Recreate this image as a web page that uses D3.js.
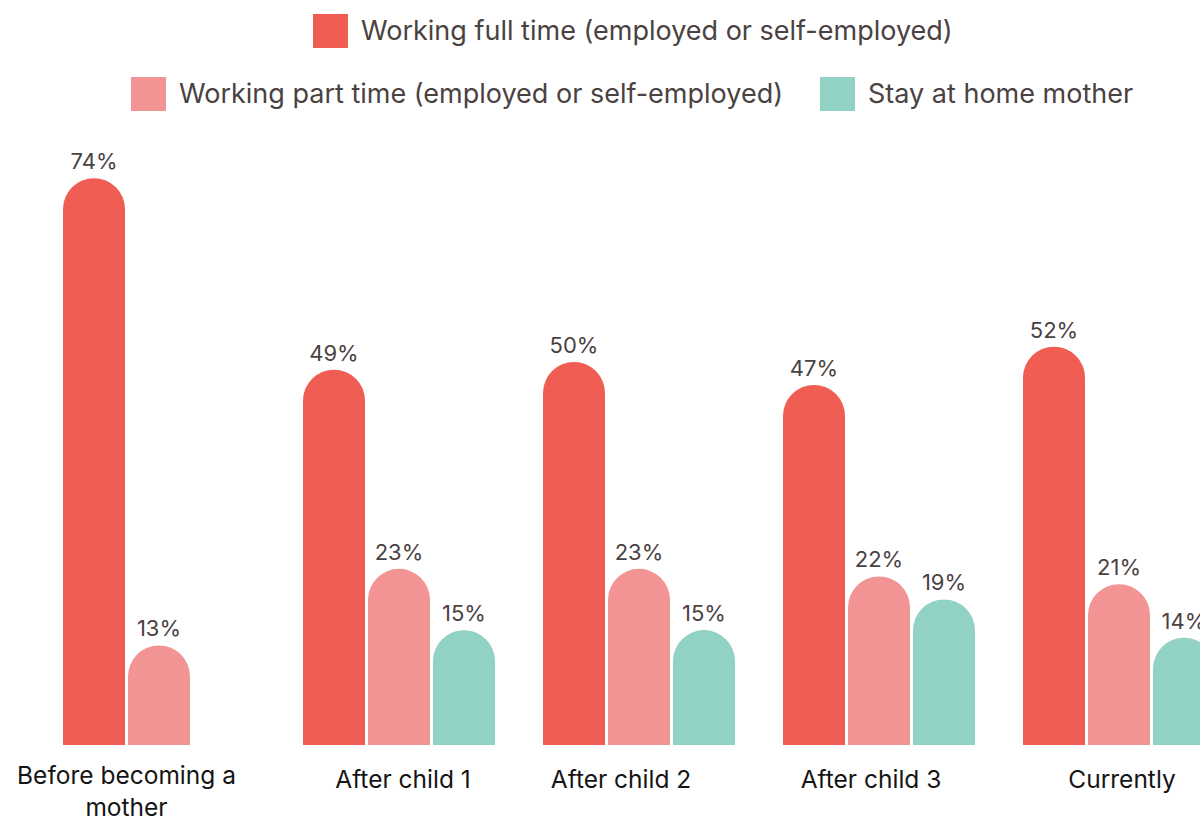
<!DOCTYPE html>
<html>
<head>
<meta charset="utf-8">
<script src="https://cdn.jsdelivr.net/npm/d3@7"></script>
<style>
  body { margin: 0; background: #fff; }
  svg { display: block; font-family: Inter, "Noto Sans", sans-serif; }
</style>
</head>
<body>
<svg id="chart" width="1200" height="821"></svg>
<script>
// data
var categories = ["Before becoming a mother", "After child 1", "After child 2", "After child 3", "Currently"];
var seriesNames = ["Working full time (employed or self-employed)", "Working part time (employed or self-employed)", "Stay at home mother"];
var fullTime = [74, 49, 50, 47, 52];
var partTime = [13, 23, 23, 22, 21];
var stayHome = [null, 15, 15, 19, 14];
var colors = ["#f05d52", "#f39494", "#92d2c5"];

var values = [fullTime, partTime, stayHome];

// small nudges for category labels (they are not quite centred in the original)
var labelNudge = [0, 4, -18, -8, 3];

var svg = d3.select("#chart");

var baseY = 745;

var x0 = d3.scaleBand()
  .domain(categories)
  .range([63, 1215])
  .paddingInner(0.2)
  .paddingOuter(0);

var x1 = d3.scaleBand()
  .domain(d3.range(seriesNames.length))
  .range([0, x0.bandwidth()])
  .paddingInner(3 / 65);

var y = d3.scaleLinear().domain([0, 100]).range([baseY, baseY - 766]);

// bar path with fully rounded top
function barPath(x, top, w) {
  var r = w / 2;
  return "M" + x + "," + baseY +
    "V" + (top + r) +
    "A" + r + "," + r + " 0 0 1 " + (x + w) + "," + (top + r) +
    "V" + baseY + "Z";
}

var bars = [];
categories.forEach(function(c, i) {
  values.forEach(function(s, j) {
    if (s[i] != null) bars.push({cat: c, s: j, v: s[i]});
  });
});

var g = svg.append("g");

g.selectAll("path.bar")
  .data(bars)
  .enter().append("path")
  .attr("class", "bar")
  .attr("fill", function(d) { return colors[d.s]; })
  .attr("d", function(d) {
    return barPath(x0(d.cat) + x1(d.s), y(d.v), x1.bandwidth());
  });

g.selectAll("text.val")
  .data(bars)
  .enter().append("text")
  .attr("class", "val")
  .attr("x", function(d) { return x0(d.cat) + x1(d.s) + x1.bandwidth() / 2; })
  .attr("y", function(d) { return y(d.v) - 9; })
  .attr("text-anchor", "middle")
  .attr("font-size", 22)
  .attr("fill", "#4a4242")
  .text(function(d) { return d.v + "%"; });

// category labels, centered under the bars that exist
categories.forEach(function(c, i) {
  var present = values.filter(function(s) { return s[i] != null; }).length;
  var cx = x0(c) + (present * x1.step() - (x1.step() - x1.bandwidth())) / 2 + labelNudge[i];
  var t = svg.append("text")
    .attr("text-anchor", "middle")
    .attr("font-size", 24.5)
    .attr("fill", "#151515");
  if (i === 0) {
    t.append("tspan").attr("x", cx).attr("y", 784).text("Before becoming a");
    t.append("tspan").attr("x", cx).attr("y", 816).text("mother");
  } else {
    t.attr("x", cx).attr("y", 788).text(c);
  }
});

// legend
var legendRows = [
  [{s: 0, x: 313, y: 14}],
  [{s: 1, x: 131, y: 77}, {s: 2, x: 820, y: 77}]
];
legendRows.forEach(function(row) {
  row.forEach(function(it) {
    svg.append("rect")
      .attr("x", it.x).attr("y", it.y)
      .attr("width", 35).attr("height", 34)
      .attr("fill", colors[it.s]);
    svg.append("text")
      .attr("x", it.x + 48).attr("y", it.y + 26)
      .attr("font-size", 27)
      .attr("fill", "#4a4242")
      .text(seriesNames[it.s]);
  });
});
</script>
</body>
</html>
